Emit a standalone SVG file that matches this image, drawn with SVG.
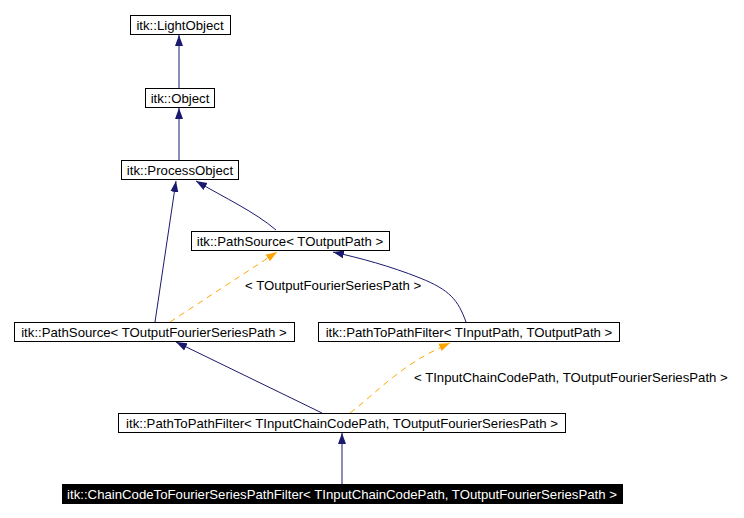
<svg xmlns="http://www.w3.org/2000/svg" width="744" height="518" viewBox="0 0 744 518">
<style>
text{font-family:"Liberation Sans",Arial,sans-serif;font-size:13.2px}
.n rect{fill:#fff;stroke:#000;stroke-width:1}
.e{fill:none;stroke:#191970;stroke-width:1}
.t{fill:none;stroke:#ffa500;stroke-width:1;stroke-dasharray:6,5}
</style>
<defs>
<marker id="a" markerWidth="12" markerHeight="10" refX="11" refY="5" orient="auto" markerUnits="userSpaceOnUse"><path d="M0,1L11,5L0,9Z" fill="#191970"/></marker>
<marker id="o" markerWidth="12" markerHeight="10" refX="11" refY="5" orient="auto" markerUnits="userSpaceOnUse"><path d="M0,1L11,5L0,9Z" fill="#ffa500"/></marker>
</defs>
<rect width="744" height="518" fill="#fff"/>
<g id="connectors">
<path class="e" d="M179,88V35" marker-end="url(#a)"/>
<path class="e" d="M179,160V108" marker-end="url(#a)"/>
<path class="e" d="M276,230C255,212 225,198 196,181" marker-end="url(#a)"/>
<path class="e" d="M155,322L176,181" marker-end="url(#a)"/>
<path class="t" d="M170,322L277,252" marker-end="url(#o)"/>
<path class="e" d="M466,322C458,300 450,290 420,278C390,266 360,258 333,252" marker-end="url(#a)"/>
<path class="e" d="M322,413L176,342" marker-end="url(#a)"/>
<path class="t" d="M350,413C380,390 400,365 450,343" marker-end="url(#o)"/>
<path class="e" d="M342,484V433" marker-end="url(#a)"/>
<text x="245" y="290">&lt; TOutputFourierSeriesPath &gt;</text>
<text x="414" y="382">&lt; TInputChainCodePath, TOutputFourierSeriesPath &gt;</text>
</g>
<g id="n1" class="n"><rect x="130.5" y="15.5" width="100" height="19"/><text x="180" y="29.5" text-anchor="middle">itk::LightObject</text></g>
<g id="n2" class="n"><rect x="145.5" y="88.5" width="69" height="19"/><text x="180" y="102.5" text-anchor="middle">itk::Object</text></g>
<g id="n3" class="n"><rect x="121.5" y="160.5" width="117" height="19"/><text x="180" y="174.5" text-anchor="middle">itk::ProcessObject</text></g>
<g id="n4" class="n"><rect x="191.5" y="231.5" width="198" height="19"/><text x="290" y="245.5" text-anchor="middle">itk::PathSource&lt; TOutputPath &gt;</text></g>
<g id="n5" class="n"><rect x="14.5" y="322.5" width="280" height="19"/><text x="154" y="336.5" text-anchor="middle">itk::PathSource&lt; TOutputFourierSeriesPath &gt;</text></g>
<g id="n6" class="n"><rect x="318.5" y="322.5" width="301" height="19"/><text x="469" y="336.5" text-anchor="middle">itk::PathToPathFilter&lt; TInputPath, TOutputPath &gt;</text></g>
<g id="n7" class="n"><rect x="118.5" y="413.5" width="447" height="19"/><text x="342" y="427.5" text-anchor="middle">itk::PathToPathFilter&lt; TInputChainCodePath, TOutputFourierSeriesPath &gt;</text></g>
<g id="n8"><rect x="62" y="484" width="561" height="20" fill="#000"/><text x="342" y="498.5" text-anchor="middle" fill="#fff">itk::ChainCodeToFourierSeriesPathFilter&lt; TInputChainCodePath, TOutputFourierSeriesPath &gt;</text></g>
</svg>
